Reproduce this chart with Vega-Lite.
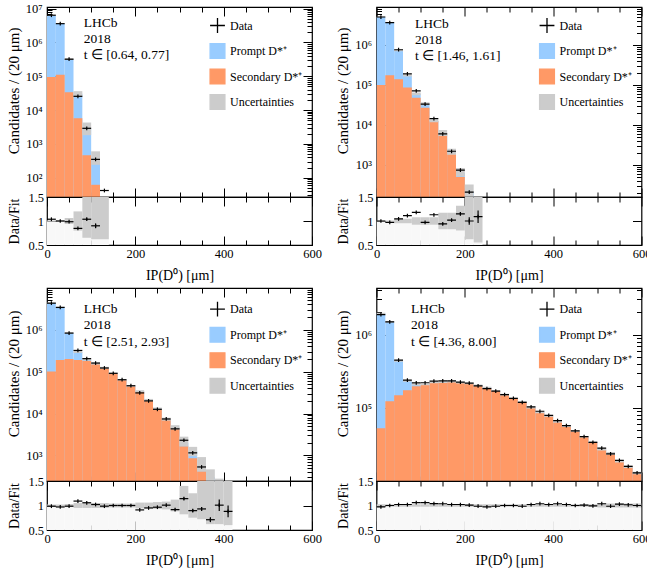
{
  "$schema": "https://vega.github.io/schema/vega-lite/v6.json",
  "background": "white",
  "padding": {"left": 5, "top": 2, "right": 0, "bottom": 0},
  "config": {
    "view": {"stroke": "black", "strokeWidth": 1.2},
    "font": "Liberation Serif",
    "axis": {"labelFont": "Liberation Serif", "titleFont": "Liberation Serif", "labelColor": "black", "titleColor": "black", "tickColor": "black", "tickWidth": 1, "titleFontWeight": "normal", "grid": false, "domain": false, "labelFlush": false, "labelOverlap": false, "labelFontSize": 12.5},
    "legend": {"labelFont": "Liberation Serif", "labelFontSize": 12, "labelColor": "black", "symbolSize": 220, "rowPadding": 4.5, "labelOffset": 4, "padding": 0}
  },
  "datasets": {
    "p1": [
      {"x0":0,"x1":20,"xc":10,"dat":6400000,"fit":6170000,"sec":95000,"lo":6100000,"hi":6240000,"r":1.037,"rbl":0.988,"rbh":1.012},
      {"x0":20,"x1":40,"xc":30,"dat":3600000,"fit":3600000,"sec":112000,"lo":3550000,"hi":3650000,"r":1.0,"rbl":0.985,"rbh":1.015},
      {"x0":40,"x1":60,"xc":50,"dat":320000,"fit":325000,"sec":34000,"lo":306000,"hi":345000,"r":0.985,"rbl":0.94,"rbh":1.06},
      {"x0":60,"x1":80,"xc":70,"dat":25600,"fit":30300,"sec":5800,"lo":24200,"hi":36400,"r":0.846,"rlo":0.836,"rhi":0.856,"rbl":0.8,"rbh":1.2},
      {"x0":80,"x1":100,"xc":90,"dat":2900,"fit":2800,"sec":460,"lo":1820,"hi":4300,"r":1.037,"rlo":1.017,"rhi":1.057,"rbl":0.65,"rbh":1.55},
      {"x0":100,"x1":120,"xc":110,"dat":350,"fit":390,"sec":62,"lo":242,"hi":605,"r":0.9,"rlo":0.85,"rhi":0.95,"rbl":0.62,"rbh":1.55},
      {"x0":120,"x1":140,"xc":130,"dat":42,"fit":16,"sec":3,"lo":10,"hi":25,"rbl":0.62,"rbh":1.55}
    ],
    "p2": [
      {"x0":0,"x1":20,"xc":10,"dat":5000000,"fit":5000000,"sec":100000,"lo":4950000,"hi":5050000,"r":1.0,"rbl":0.99,"rbh":1.01},
      {"x0":20,"x1":40,"xc":30,"dat":3600000,"fit":3710000,"sec":174000,"lo":3660000,"hi":3760000,"r":0.97,"rbl":0.988,"rbh":1.012},
      {"x0":40,"x1":60,"xc":50,"dat":760000,"fit":728000,"sec":138000,"lo":695000,"hi":761000,"r":1.044,"rbl":0.955,"rbh":1.045},
      {"x0":60,"x1":80,"xc":70,"dat":190000,"fit":171000,"sec":87000,"lo":163000,"hi":179000,"r":1.11,"rbl":0.955,"rbh":1.045},
      {"x0":80,"x1":100,"xc":90,"dat":71000,"fit":60000,"sec":48000,"lo":55200,"hi":64800,"r":1.18,"rbl":0.92,"rbh":1.08},
      {"x0":100,"x1":120,"xc":110,"dat":33000,"fit":34000,"sec":27000,"lo":31300,"hi":36700,"r":0.97,"rbl":0.92,"rbh":1.08},
      {"x0":120,"x1":140,"xc":130,"dat":14400,"fit":12700,"sec":12500,"lo":11700,"hi":13700,"r":1.13,"rbl":0.92,"rbh":1.08},
      {"x0":140,"x1":160,"xc":150,"dat":6000,"fit":6400,"sec":6100,"lo":5310,"hi":7490,"r":0.94,"rlo":0.925,"rhi":0.955,"rbl":0.83,"rbh":1.17},
      {"x0":160,"x1":180,"xc":170,"dat":2200,"fit":2160,"sec":2000,"lo":1790,"hi":2530,"r":1.02,"rlo":1.0,"rhi":1.04,"rbl":0.83,"rbh":1.17},
      {"x0":180,"x1":200,"xc":190,"dat":740,"fit":640,"sec":500,"lo":512,"hi":845,"r":1.15,"rlo":1.12,"rhi":1.18,"rbl":0.8,"rbh":1.32},
      {"x0":200,"x1":220,"xc":210,"dat":210,"fit":210,"sec":90,"lo":130,"hi":326,"r":1.0,"rlo":0.92,"rhi":1.08,"rbl":0.62,"rbh":1.55},
      {"x0":220,"x1":240,"xc":230,"dat":65,"fit":60,"sec":20,"lo":37,"hi":93,"r":1.09,"rlo":0.96,"rhi":1.22,"rbl":0.55,"rbh":1.55}
    ],
    "p3": [
      {"x0":0,"x1":20,"xc":10,"dat":4300000,"fit":4360000,"sec":100000,"lo":4270000,"hi":4450000,"r":0.986,"rbl":0.98,"rbh":1.02},
      {"x0":20,"x1":40,"xc":30,"dat":3400000,"fit":3500000,"sec":190000,"lo":3430000,"hi":3570000,"r":0.97,"rbl":0.98,"rbh":1.02},
      {"x0":40,"x1":60,"xc":50,"dat":830000,"fit":840000,"sec":200000,"lo":815000,"hi":865000,"r":0.986,"rbl":0.97,"rbh":1.03},
      {"x0":60,"x1":80,"xc":70,"dat":320000,"fit":294000,"sec":190000,"lo":279000,"hi":309000,"r":1.09,"rbl":0.95,"rbh":1.05},
      {"x0":80,"x1":100,"xc":90,"dat":204000,"fit":193000,"sec":180000,"lo":183000,"hi":203000,"r":1.056,"rbl":0.95,"rbh":1.05},
      {"x0":100,"x1":120,"xc":110,"dat":160000,"fit":157000,"sec":150000,"lo":149000,"hi":165000,"r":1.02,"rbl":0.95,"rbh":1.05},
      {"x0":120,"x1":140,"xc":130,"dat":122000,"fit":124000,"sec":120000,"lo":118000,"hi":130000,"r":0.986,"rbl":0.95,"rbh":1.05},
      {"x0":140,"x1":160,"xc":150,"dat":91000,"fit":91000,"sec":89000,"lo":87400,"hi":94600,"r":1.0,"rbl":0.96,"rbh":1.04},
      {"x0":160,"x1":180,"xc":170,"dat":64000,"fit":64000,"sec":63000,"lo":61400,"hi":66600,"r":1.0,"rbl":0.96,"rbh":1.04},
      {"x0":180,"x1":200,"xc":190,"dat":46000,"fit":46000,"sec":45000,"lo":44200,"hi":47800,"r":1.0,"rbl":0.96,"rbh":1.04},
      {"x0":200,"x1":220,"xc":210,"dat":31000,"fit":34000,"sec":33000,"lo":32000,"hi":36000,"r":0.91,"rbl":0.94,"rbh":1.06},
      {"x0":220,"x1":240,"xc":230,"dat":20000,"fit":21000,"sec":20500,"lo":19700,"hi":22300,"r":0.95,"rbl":0.94,"rbh":1.06},
      {"x0":240,"x1":260,"xc":250,"dat":12600,"fit":13000,"sec":12700,"lo":12100,"hi":13900,"r":0.965,"rbl":0.93,"rbh":1.07},
      {"x0":260,"x1":280,"xc":270,"dat":7400,"fit":7350,"sec":7100,"lo":6760,"hi":7940,"r":1.007,"rbl":0.92,"rbh":1.08},
      {"x0":280,"x1":300,"xc":290,"dat":4300,"fit":4700,"sec":4500,"lo":4140,"hi":5260,"r":0.916,"rlo":0.9,"rhi":0.932,"rbl":0.88,"rbh":1.12},
      {"x0":300,"x1":320,"xc":310,"dat":2300,"fit":2000,"sec":1650,"lo":1640,"hi":2800,"r":1.14,"rlo":1.115,"rhi":1.165,"rbl":0.82,"rbh":1.4},
      {"x0":320,"x1":340,"xc":330,"dat":1150,"fit":1280,"sec":850,"lo":960,"hi":1600,"r":0.895,"rlo":0.865,"rhi":0.925,"rbl":0.75,"rbh":1.25},
      {"x0":340,"x1":360,"xc":350,"dat":530,"fit":570,"sec":420,"lo":410,"hi":912,"r":0.93,"rlo":0.89,"rhi":0.97,"rbl":0.72,"rbh":1.6},
      {"x0":360,"x1":380,"xc":370,"dat":213,"fit":300,"lo":186,"hi":465,"r":0.71,"rlo":0.66,"rhi":0.76,"rbl":0.62,"rbh":1.55},
      {"x0":380,"x1":400,"xc":390,"dat":180,"fit":180,"lo":112,"hi":279,"r":1.007,"rlo":0.89,"rhi":1.12,"rbl":0.62,"rbh":1.55},
      {"x0":400,"x1":420,"xc":410,"dat":88,"fit":100,"lo":62,"hi":155,"r":0.88,"rlo":0.76,"rhi":1.0,"rbl":0.6,"rbh":1.55}
    ],
    "p4": [
      {"x0":0,"x1":20,"xc":10,"dat":1870000,"fit":1930000,"sec":53000,"lo":1880000,"hi":1980000,"r":0.97,"rbl":0.975,"rbh":1.025},
      {"x0":20,"x1":40,"xc":30,"dat":1490000,"fit":1490000,"sec":123000,"lo":1453000,"hi":1527000,"r":1.0,"rbl":0.975,"rbh":1.025},
      {"x0":40,"x1":60,"xc":50,"dat":447000,"fit":438000,"sec":149000,"lo":427000,"hi":449000,"r":1.02,"rbl":0.975,"rbh":1.025},
      {"x0":60,"x1":80,"xc":70,"dat":239000,"fit":234000,"sec":174000,"lo":228000,"hi":240000,"r":1.02,"rbl":0.975,"rbh":1.025},
      {"x0":80,"x1":100,"xc":90,"dat":219000,"fit":207000,"sec":197000,"lo":202000,"hi":212000,"r":1.06,"rbl":0.975,"rbh":1.025},
      {"x0":100,"x1":120,"xc":110,"dat":220000,"fit":208000,"sec":205000,"lo":203000,"hi":213000,"r":1.06,"rbl":0.975,"rbh":1.025},
      {"x0":120,"x1":140,"xc":130,"dat":231000,"fit":222000,"sec":220000,"lo":216000,"hi":228000,"r":1.04,"rbl":0.975,"rbh":1.025},
      {"x0":140,"x1":160,"xc":150,"dat":233000,"fit":225000,"sec":223000,"lo":219000,"hi":231000,"r":1.036,"rbl":0.975,"rbh":1.025},
      {"x0":160,"x1":180,"xc":170,"dat":233000,"fit":228000,"sec":226000,"lo":222000,"hi":234000,"r":1.02,"rbl":0.975,"rbh":1.025},
      {"x0":180,"x1":200,"xc":190,"dat":224000,"fit":220000,"sec":218000,"lo":215000,"hi":226000,"r":1.02,"rbl":0.975,"rbh":1.025},
      {"x0":200,"x1":220,"xc":210,"dat":217000,"fit":215000,"sec":213000,"lo":210000,"hi":220000,"r":1.007,"rbl":0.975,"rbh":1.025},
      {"x0":220,"x1":240,"xc":230,"dat":200000,"fit":203000,"sec":201000,"lo":198000,"hi":208000,"r":0.985,"rbl":0.975,"rbh":1.025},
      {"x0":240,"x1":260,"xc":250,"dat":183000,"fit":189000,"sec":187000,"lo":184000,"hi":194000,"r":0.97,"rbl":0.975,"rbh":1.025},
      {"x0":260,"x1":280,"xc":270,"dat":169000,"fit":172000,"sec":170000,"lo":168000,"hi":176000,"r":0.985,"rbl":0.975,"rbh":1.025},
      {"x0":280,"x1":300,"xc":290,"dat":152000,"fit":152000,"sec":150000,"lo":148000,"hi":156000,"r":1.0,"rbl":0.975,"rbh":1.025},
      {"x0":300,"x1":320,"xc":310,"dat":135000,"fit":135000,"sec":134000,"lo":132000,"hi":138000,"r":1.0,"rbl":0.975,"rbh":1.025},
      {"x0":320,"x1":340,"xc":330,"dat":119000,"fit":121000,"sec":120000,"lo":118000,"hi":124000,"r":0.985,"rbl":0.975,"rbh":1.025},
      {"x0":340,"x1":360,"xc":350,"dat":103000,"fit":101000,"sec":100000,"lo":98500,"hi":103500,"r":1.02,"rbl":0.975,"rbh":1.025},
      {"x0":360,"x1":380,"xc":370,"dat":90000,"fit":87000,"sec":86000,"lo":84800,"hi":89200,"r":1.036,"rbl":0.975,"rbh":1.025},
      {"x0":380,"x1":400,"xc":390,"dat":79000,"fit":77500,"sec":76700,"lo":75600,"hi":79400,"r":1.02,"rbl":0.975,"rbh":1.025},
      {"x0":400,"x1":420,"xc":410,"dat":67000,"fit":64700,"sec":64000,"lo":63100,"hi":66300,"r":1.036,"rbl":0.975,"rbh":1.025},
      {"x0":420,"x1":440,"xc":430,"dat":57500,"fit":56400,"sec":55800,"lo":55000,"hi":57800,"r":1.02,"rbl":0.975,"rbh":1.025},
      {"x0":440,"x1":460,"xc":450,"dat":48600,"fit":48600,"sec":48100,"lo":47400,"hi":49800,"r":1.0,"rbl":0.975,"rbh":1.025},
      {"x0":460,"x1":480,"xc":470,"dat":40700,"fit":40400,"sec":40000,"lo":39400,"hi":41400,"r":1.007,"rbl":0.975,"rbh":1.025},
      {"x0":480,"x1":500,"xc":490,"dat":34000,"fit":34200,"sec":33900,"lo":33300,"hi":35100,"r":0.993,"rbl":0.975,"rbh":1.025},
      {"x0":500,"x1":520,"xc":510,"dat":28300,"fit":27300,"sec":27000,"lo":26200,"hi":28400,"r":1.036,"rbl":0.96,"rbh":1.04},
      {"x0":520,"x1":540,"xc":530,"dat":23600,"fit":24000,"sec":23800,"lo":23000,"hi":25000,"r":0.985,"rbl":0.96,"rbh":1.04},
      {"x0":540,"x1":560,"xc":550,"dat":19300,"fit":18700,"sec":18500,"lo":18000,"hi":19400,"r":1.03,"rbl":0.96,"rbh":1.04},
      {"x0":560,"x1":580,"xc":570,"dat":16000,"fit":15800,"sec":15600,"lo":15200,"hi":16400,"r":1.015,"rbl":0.96,"rbh":1.04},
      {"x0":580,"x1":600,"xc":590,"dat":13000,"fit":13000,"sec":12900,"lo":12500,"hi":13500,"r":1.0,"rbl":0.96,"rbh":1.04}
    ]
  },
  "spacing": 0,
  "resolve": {"scale": {"color": "independent"}, "legend": {"color": "independent"}},
  "vconcat": [
    {
      "spacing": 12.5,
      "resolve": {"scale": {"color": "independent"}, "legend": {"color": "independent"}},
      "hconcat": [
        {
          "spacing": 0,
          "bounds": "flush",
          "vconcat": [
            {
              "width": 265, "height": 190,
              "data": {"name": "p1"},
              "resolve": {"axis": {"x": "independent", "y": "independent"}},
              "layer": [
                {"mark": {"type": "rect", "clip": true},
                 "encoding": {
                   "x": {"field": "x0", "type": "quantitative", "scale": {"domain": [0, 600], "nice": false, "zero": false},
                         "axis": {"orient": "bottom", "values": [0,50,100,150,200,250,300,350,400,450,500,550,600], "labels": false, "title": null, "tickSize": {"condition": {"test": "datum.value % 200 === 0", "value": -9}, "value": -5}}},
                   "x2": {"field": "x1"},
                   "y": {"field": "fit", "type": "quantitative", "scale": {"type": "log", "domain": [27, 11200000], "nice": false},
                         "axis": {"orient": "left", "values": [30,40,50,60,70,80,90,100,200,300,400,500,600,700,800,900,1000,2000,3000,4000,5000,6000,7000,8000,9000,10000,20000,30000,40000,50000,60000,70000,80000,90000,100000,200000,300000,400000,500000,600000,700000,800000,900000,1000000,2000000,3000000,4000000,5000000,6000000,7000000,8000000,9000000,10000000],
                                  "labelExpr": "abs(log(datum.value)/LN10 - round(log(datum.value)/LN10)) < 0.001 ? '10' + ['⁰','¹','²','³','⁴','⁵','⁶','⁷','⁸','⁹'][round(log(datum.value)/LN10)] : ''",
                                  "tickSize": {"condition": {"test": "abs(log(datum.value)/LN10 - round(log(datum.value)/LN10)) < 0.001", "value": -9}, "value": -5},
                                  "labelPadding": 14,
                                  "title": "Candidates / (20 μm)", "titleFontSize": 15, "titleX": -29, "titleY": 20, "titleAlign": "right", "titleBaseline": "alphabetic", "titleAngle": 270}},
                   "y2": {"datum": 1},
                   "color": {"datum": "Prompt D*⁺", "type": "nominal",
                             "scale": {"domain": ["Data", "Prompt D*⁺", "Secondary D*⁺", "Uncertainties"], "range": ["#000000", "#99ccff", "#ff9966", "#cccccc"]},
                             "legend": {"title": null, "orient": "none", "legendX": 162, "legendY": 10,
                                        "encode": {"symbols": {"update": {
                                          "shape": {"signal": "datum.value === 'Data' ? 'M-1,0L1,0M0,-1L0,1' : 'square'"},
                                          "fill": {"signal": "datum.value === 'Data' ? 'transparent' : (datum.value === 'Uncertainties' ? '#cccccc' : (datum.value === 'Secondary D*⁺' ? '#ff9966' : '#99ccff'))"},
                                          "stroke": {"signal": "datum.value === 'Data' ? '#000000' : 'transparent'"},
                                          "strokeWidth": {"value": 1.3},
                                          "opacity": {"value": 1}}}}}}
                 }},
                {"mark": {"type": "rect", "clip": true},
                 "encoding": {
                   "x": {"field": "x0", "type": "quantitative", "axis": {"orient": "top", "values": [0,50,100,150,200,250,300,350,400,450,500,550,600], "labels": false, "title": null, "tickSize": {"condition": {"test": "datum.value % 200 === 0", "value": -9}, "value": -5}}},
                   "x2": {"field": "x1"},
                   "y": {"field": "sec", "type": "quantitative", "axis": {"orient": "right", "values": [30,40,50,60,70,80,90,100,200,300,400,500,600,700,800,900,1000,2000,3000,4000,5000,6000,7000,8000,9000,10000,20000,30000,40000,50000,60000,70000,80000,90000,100000,200000,300000,400000,500000,600000,700000,800000,900000,1000000,2000000,3000000,4000000,5000000,6000000,7000000,8000000,9000000,10000000], "labels": false, "title": null,
                         "tickSize": {"condition": {"test": "abs(log(datum.value)/LN10 - round(log(datum.value)/LN10)) < 0.001", "value": -9}, "value": -5}}},
                   "y2": {"datum": 1},
                   "color": {"datum": "Secondary D*⁺", "type": "nominal"}
                 }},
                {"mark": {"type": "rect", "clip": true},
                 "encoding": {
                   "x": {"field": "x0", "type": "quantitative", "axis": null},
                   "x2": {"field": "x1"},
                   "y": {"field": "lo", "type": "quantitative", "axis": null},
                   "y2": {"field": "hi"},
                   "color": {"datum": "Uncertainties", "type": "nominal"}
                 }},
                {"mark": {"type": "rule", "clip": true, "strokeWidth": 1.2},
                 "encoding": {
                   "x": {"field": "x0", "type": "quantitative", "axis": null},
                   "x2": {"field": "x1"},
                   "y": {"field": "dat", "type": "quantitative", "axis": null},
                   "color": {"datum": "Data", "type": "nominal"}
                 }},
                {"mark": {"type": "point", "shape": "M0,-1L0,1", "filled": false, "size": 14, "strokeWidth": 1.2, "opacity": 1, "clip": true},
                 "encoding": {
                   "x": {"field": "xc", "type": "quantitative", "axis": null},
                   "y": {"field": "dat", "type": "quantitative", "axis": null},
                   "color": {"datum": "Data", "type": "nominal"}
                 }},
                {"data": {"values": [{}]},
                 "mark": {"type": "text", "align": "left", "baseline": "top", "font": "Liberation Serif", "fontSize": 13.5, "lineHeight": 16, "color": "black"},
                 "encoding": {
                   "x": {"datum": 83, "type": "quantitative", "axis": null},
                   "y": {"datum": 6000000, "type": "quantitative", "axis": null},
                   "text": {"value": ["LHCb", "2018", "t ∈ [0.64, 0.77]"]}
                 }}
              ]
            },
            {
              "width": 265, "height": 48,
              "data": {"name": "p1"},
              "resolve": {"axis": {"x": "independent", "y": "independent"}},
              "layer": [
                {"mark": {"type": "rect", "clip": true, "color": "#f8f8f8"},
                 "encoding": {
                   "x": {"field": "x0", "type": "quantitative", "scale": {"domain": [0, 600], "nice": false, "zero": false},
                         "axis": {"orient": "bottom", "values": [0,50,100,150,200,250,300,350,400,450,500,550,600], "labelExpr": "datum.value % 200 === 0 ? datum.label : ''", "labelPadding": 11, "tickSize": {"condition": {"test": "datum.value % 200 === 0", "value": -9}, "value": -5},
                                  "title": "IP(D⁰) [μm]", "titleFontSize": 14, "titleY": 34, "titleBaseline": "alphabetic"}},
                   "x2": {"field": "x1"},
                   "y": {"field": "rbl", "type": "quantitative", "scale": {"domain": [0.5, 1.5], "nice": false, "zero": false},
                         "axis": {"orient": "left", "values": [0.5, 1, 1.5], "format": "~g", "tickSize": -9, "labelPadding": 12.5, "title": "Data/Fit", "titleFontSize": 14, "titleX": -29, "titleBaseline": "alphabetic", "titleAngle": 270}},
                   "y2": {"datum": 0.5}
                 }},
                {"mark": {"type": "rect", "clip": true, "color": "#cccccc"},
                 "encoding": {
                   "x": {"field": "x0", "type": "quantitative", "axis": {"orient": "top", "values": [0,50,100,150,200,250,300,350,400,450,500,550,600], "labels": false, "title": null, "tickSize": {"condition": {"test": "datum.value % 200 === 0", "value": -9}, "value": -5}}},
                   "x2": {"field": "x1"},
                   "y": {"field": "rbl", "type": "quantitative", "axis": {"orient": "right", "values": [0.5, 1, 1.5], "labels": false, "title": null, "tickSize": -9}},
                   "y2": {"field": "rbh"}
                 }},
                {"mark": {"type": "rule", "clip": true, "color": "black", "strokeWidth": 1.2},
                 "encoding": {
                   "x": {"field": "x0", "type": "quantitative", "axis": null},
                   "x2": {"field": "x1"},
                   "y": {"field": "r", "type": "quantitative", "axis": null}
                 }},
                {"mark": {"type": "rule", "clip": true, "color": "black", "strokeWidth": 1.2},
                 "encoding": {
                   "x": {"field": "xc", "type": "quantitative", "axis": null},
                   "y": {"field": "rlo", "type": "quantitative", "axis": null},
                   "y2": {"field": "rhi"}
                 }},
                {"mark": {"type": "point", "shape": "M0,-1L0,1", "filled": false, "size": 14, "strokeWidth": 1.2, "opacity": 1, "color": "black", "clip": true},
                 "encoding": {
                   "x": {"field": "xc", "type": "quantitative", "axis": null},
                   "y": {"field": "r", "type": "quantitative", "axis": null}
                 }}
              ]
            }
          ]
        },
        {
          "spacing": 0,
          "bounds": "flush",
          "vconcat": [
            {
              "width": 265, "height": 190,
              "data": {"name": "p2"},
              "resolve": {"axis": {"x": "independent", "y": "independent"}},
              "layer": [
                {"mark": {"type": "rect", "clip": true},
                 "encoding": {
                   "x": {"field": "x0", "type": "quantitative", "scale": {"domain": [0, 600], "nice": false, "zero": false},
                         "axis": {"orient": "bottom", "values": [0,50,100,150,200,250,300,350,400,450,500,550,600], "labels": false, "title": null, "tickSize": {"condition": {"test": "datum.value % 200 === 0", "value": -9}, "value": -5}}},
                   "x2": {"field": "x1"},
                   "y": {"field": "fit", "type": "quantitative", "scale": {"type": "log", "domain": [158, 8900000], "nice": false},
                         "axis": {"orient": "left", "values": [200,300,400,500,600,700,800,900,1000,2000,3000,4000,5000,6000,7000,8000,9000,10000,20000,30000,40000,50000,60000,70000,80000,90000,100000,200000,300000,400000,500000,600000,700000,800000,900000,1000000,2000000,3000000,4000000,5000000,6000000,7000000,8000000],
                                  "labelExpr": "abs(log(datum.value)/LN10 - round(log(datum.value)/LN10)) < 0.001 ? '10' + ['⁰','¹','²','³','⁴','⁵','⁶','⁷','⁸','⁹'][round(log(datum.value)/LN10)] : ''",
                                  "tickSize": {"condition": {"test": "abs(log(datum.value)/LN10 - round(log(datum.value)/LN10)) < 0.001", "value": -9}, "value": -5},
                                  "labelPadding": 14,
                                  "title": "Candidates / (20 μm)", "titleFontSize": 15, "titleX": -29, "titleY": 20, "titleAlign": "right", "titleBaseline": "alphabetic", "titleAngle": 270}},
                   "y2": {"datum": 1},
                   "color": {"datum": "Prompt D*⁺", "type": "nominal",
                             "scale": {"domain": ["Data", "Prompt D*⁺", "Secondary D*⁺", "Uncertainties"], "range": ["#000000", "#99ccff", "#ff9966", "#cccccc"]},
                             "legend": {"title": null, "orient": "none", "legendX": 162, "legendY": 10,
                                        "encode": {"symbols": {"update": {
                                          "shape": {"signal": "datum.value === 'Data' ? 'M-1,0L1,0M0,-1L0,1' : 'square'"},
                                          "fill": {"signal": "datum.value === 'Data' ? 'transparent' : (datum.value === 'Uncertainties' ? '#cccccc' : (datum.value === 'Secondary D*⁺' ? '#ff9966' : '#99ccff'))"},
                                          "stroke": {"signal": "datum.value === 'Data' ? '#000000' : 'transparent'"},
                                          "strokeWidth": {"value": 1.3},
                                          "opacity": {"value": 1}}}}}}
                 }},
                {"mark": {"type": "rect", "clip": true},
                 "encoding": {
                   "x": {"field": "x0", "type": "quantitative", "axis": {"orient": "top", "values": [0,50,100,150,200,250,300,350,400,450,500,550,600], "labels": false, "title": null, "tickSize": {"condition": {"test": "datum.value % 200 === 0", "value": -9}, "value": -5}}},
                   "x2": {"field": "x1"},
                   "y": {"field": "sec", "type": "quantitative", "axis": {"orient": "right", "values": [200,300,400,500,600,700,800,900,1000,2000,3000,4000,5000,6000,7000,8000,9000,10000,20000,30000,40000,50000,60000,70000,80000,90000,100000,200000,300000,400000,500000,600000,700000,800000,900000,1000000,2000000,3000000,4000000,5000000,6000000,7000000,8000000], "labels": false, "title": null,
                         "tickSize": {"condition": {"test": "abs(log(datum.value)/LN10 - round(log(datum.value)/LN10)) < 0.001", "value": -9}, "value": -5}}},
                   "y2": {"datum": 1},
                   "color": {"datum": "Secondary D*⁺", "type": "nominal"}
                 }},
                {"mark": {"type": "rect", "clip": true},
                 "encoding": {
                   "x": {"field": "x0", "type": "quantitative", "axis": null},
                   "x2": {"field": "x1"},
                   "y": {"field": "lo", "type": "quantitative", "axis": null},
                   "y2": {"field": "hi"},
                   "color": {"datum": "Uncertainties", "type": "nominal"}
                 }},
                {"mark": {"type": "rule", "clip": true, "strokeWidth": 1.2},
                 "encoding": {
                   "x": {"field": "x0", "type": "quantitative", "axis": null},
                   "x2": {"field": "x1"},
                   "y": {"field": "dat", "type": "quantitative", "axis": null},
                   "color": {"datum": "Data", "type": "nominal"}
                 }},
                {"mark": {"type": "point", "shape": "M0,-1L0,1", "filled": false, "size": 14, "strokeWidth": 1.2, "opacity": 1, "clip": true},
                 "encoding": {
                   "x": {"field": "xc", "type": "quantitative", "axis": null},
                   "y": {"field": "dat", "type": "quantitative", "axis": null},
                   "color": {"datum": "Data", "type": "nominal"}
                 }},
                {"data": {"values": [{}]},
                 "mark": {"type": "text", "align": "left", "baseline": "top", "font": "Liberation Serif", "fontSize": 13.5, "lineHeight": 16, "color": "black"},
                 "encoding": {
                   "x": {"datum": 87, "type": "quantitative", "axis": null},
                   "y": {"datum": 5090000, "type": "quantitative", "axis": null},
                   "text": {"value": ["LHCb", "2018", "t ∈ [1.46, 1.61]"]}
                 }}
              ]
            },
            {
              "width": 265, "height": 48,
              "data": {"name": "p2"},
              "resolve": {"axis": {"x": "independent", "y": "independent"}},
              "layer": [
                {"mark": {"type": "rect", "clip": true, "color": "#f8f8f8"},
                 "encoding": {
                   "x": {"field": "x0", "type": "quantitative", "scale": {"domain": [0, 600], "nice": false, "zero": false},
                         "axis": {"orient": "bottom", "values": [0,50,100,150,200,250,300,350,400,450,500,550,600], "labelExpr": "datum.value % 200 === 0 ? datum.label : ''", "labelPadding": 11, "tickSize": {"condition": {"test": "datum.value % 200 === 0", "value": -9}, "value": -5},
                                  "title": "IP(D⁰) [μm]", "titleFontSize": 14, "titleY": 34, "titleBaseline": "alphabetic"}},
                   "x2": {"field": "x1"},
                   "y": {"field": "rbl", "type": "quantitative", "scale": {"domain": [0.5, 1.5], "nice": false, "zero": false},
                         "axis": {"orient": "left", "values": [0.5, 1, 1.5], "format": "~g", "tickSize": -9, "labelPadding": 12.5, "title": "Data/Fit", "titleFontSize": 14, "titleX": -29, "titleBaseline": "alphabetic", "titleAngle": 270}},
                   "y2": {"datum": 0.5}
                 }},
                {"mark": {"type": "rect", "clip": true, "color": "#cccccc"},
                 "encoding": {
                   "x": {"field": "x0", "type": "quantitative", "axis": {"orient": "top", "values": [0,50,100,150,200,250,300,350,400,450,500,550,600], "labels": false, "title": null, "tickSize": {"condition": {"test": "datum.value % 200 === 0", "value": -9}, "value": -5}}},
                   "x2": {"field": "x1"},
                   "y": {"field": "rbl", "type": "quantitative", "axis": {"orient": "right", "values": [0.5, 1, 1.5], "labels": false, "title": null, "tickSize": -9}},
                   "y2": {"field": "rbh"}
                 }},
                {"mark": {"type": "rule", "clip": true, "color": "black", "strokeWidth": 1.2},
                 "encoding": {
                   "x": {"field": "x0", "type": "quantitative", "axis": null},
                   "x2": {"field": "x1"},
                   "y": {"field": "r", "type": "quantitative", "axis": null}
                 }},
                {"mark": {"type": "rule", "clip": true, "color": "black", "strokeWidth": 1.2},
                 "encoding": {
                   "x": {"field": "xc", "type": "quantitative", "axis": null},
                   "y": {"field": "rlo", "type": "quantitative", "axis": null},
                   "y2": {"field": "rhi"}
                 }},
                {"mark": {"type": "point", "shape": "M0,-1L0,1", "filled": false, "size": 14, "strokeWidth": 1.2, "opacity": 1, "color": "black", "clip": true},
                 "encoding": {
                   "x": {"field": "xc", "type": "quantitative", "axis": null},
                   "y": {"field": "r", "type": "quantitative", "axis": null}
                 }}
              ]
            }
          ]
        }
      ]
    },
    {
      "spacing": 12.5,
      "resolve": {"scale": {"color": "independent"}, "legend": {"color": "independent"}},
      "hconcat": [
        {
          "spacing": 0,
          "bounds": "flush",
          "vconcat": [
            {
              "width": 265, "height": 193,
              "data": {"name": "p3"},
              "resolve": {"axis": {"x": "independent", "y": "independent"}},
              "layer": [
                {"mark": {"type": "rect", "clip": true},
                 "encoding": {
                   "x": {"field": "x0", "type": "quantitative", "scale": {"domain": [0, 600], "nice": false, "zero": false},
                         "axis": {"orient": "bottom", "values": [0,50,100,150,200,250,300,350,400,450,500,550,600], "labels": false, "title": null, "tickSize": {"condition": {"test": "datum.value % 200 === 0", "value": -9}, "value": -5}}},
                   "x2": {"field": "x1"},
                   "y": {"field": "fit", "type": "quantitative", "scale": {"type": "log", "domain": [245, 9900000], "nice": false},
                         "axis": {"orient": "left", "values": [300,400,500,600,700,800,900,1000,2000,3000,4000,5000,6000,7000,8000,9000,10000,20000,30000,40000,50000,60000,70000,80000,90000,100000,200000,300000,400000,500000,600000,700000,800000,900000,1000000,2000000,3000000,4000000,5000000,6000000,7000000,8000000,9000000],
                                  "labelExpr": "abs(log(datum.value)/LN10 - round(log(datum.value)/LN10)) < 0.001 ? '10' + ['⁰','¹','²','³','⁴','⁵','⁶','⁷','⁸','⁹'][round(log(datum.value)/LN10)] : ''",
                                  "tickSize": {"condition": {"test": "abs(log(datum.value)/LN10 - round(log(datum.value)/LN10)) < 0.001", "value": -9}, "value": -5},
                                  "labelPadding": 14,
                                  "title": "Candidates / (20 μm)", "titleFontSize": 15, "titleX": -29, "titleY": 22, "titleAlign": "right", "titleBaseline": "alphabetic", "titleAngle": 270}},
                   "y2": {"datum": 1},
                   "color": {"datum": "Prompt D*⁺", "type": "nominal",
                             "scale": {"domain": ["Data", "Prompt D*⁺", "Secondary D*⁺", "Uncertainties"], "range": ["#000000", "#99ccff", "#ff9966", "#cccccc"]},
                             "legend": {"title": null, "orient": "none", "legendX": 162, "legendY": 12.7,
                                        "encode": {"symbols": {"update": {
                                          "shape": {"signal": "datum.value === 'Data' ? 'M-1,0L1,0M0,-1L0,1' : 'square'"},
                                          "fill": {"signal": "datum.value === 'Data' ? 'transparent' : (datum.value === 'Uncertainties' ? '#cccccc' : (datum.value === 'Secondary D*⁺' ? '#ff9966' : '#99ccff'))"},
                                          "stroke": {"signal": "datum.value === 'Data' ? '#000000' : 'transparent'"},
                                          "strokeWidth": {"value": 1.3},
                                          "opacity": {"value": 1}}}}}}
                 }},
                {"mark": {"type": "rect", "clip": true},
                 "encoding": {
                   "x": {"field": "x0", "type": "quantitative", "axis": {"orient": "top", "values": [0,50,100,150,200,250,300,350,400,450,500,550,600], "labels": false, "title": null, "tickSize": {"condition": {"test": "datum.value % 200 === 0", "value": -9}, "value": -5}}},
                   "x2": {"field": "x1"},
                   "y": {"field": "sec", "type": "quantitative", "axis": {"orient": "right", "values": [300,400,500,600,700,800,900,1000,2000,3000,4000,5000,6000,7000,8000,9000,10000,20000,30000,40000,50000,60000,70000,80000,90000,100000,200000,300000,400000,500000,600000,700000,800000,900000,1000000,2000000,3000000,4000000,5000000,6000000,7000000,8000000,9000000], "labels": false, "title": null,
                         "tickSize": {"condition": {"test": "abs(log(datum.value)/LN10 - round(log(datum.value)/LN10)) < 0.001", "value": -9}, "value": -5}}},
                   "y2": {"datum": 1},
                   "color": {"datum": "Secondary D*⁺", "type": "nominal"}
                 }},
                {"mark": {"type": "rect", "clip": true},
                 "encoding": {
                   "x": {"field": "x0", "type": "quantitative", "axis": null},
                   "x2": {"field": "x1"},
                   "y": {"field": "lo", "type": "quantitative", "axis": null},
                   "y2": {"field": "hi"},
                   "color": {"datum": "Uncertainties", "type": "nominal"}
                 }},
                {"mark": {"type": "rule", "clip": true, "strokeWidth": 1.2},
                 "encoding": {
                   "x": {"field": "x0", "type": "quantitative", "axis": null},
                   "x2": {"field": "x1"},
                   "y": {"field": "dat", "type": "quantitative", "axis": null},
                   "color": {"datum": "Data", "type": "nominal"}
                 }},
                {"mark": {"type": "point", "shape": "M0,-1L0,1", "filled": false, "size": 14, "strokeWidth": 1.2, "opacity": 1, "clip": true},
                 "encoding": {
                   "x": {"field": "xc", "type": "quantitative", "axis": null},
                   "y": {"field": "dat", "type": "quantitative", "axis": null},
                   "color": {"datum": "Data", "type": "nominal"}
                 }},
                {"data": {"values": [{}]},
                 "mark": {"type": "text", "align": "left", "baseline": "top", "font": "Liberation Serif", "fontSize": 13.5, "lineHeight": 16.5, "color": "black"},
                 "encoding": {
                   "x": {"datum": 83, "type": "quantitative", "axis": null},
                   "y": {"datum": 4670000, "type": "quantitative", "axis": null},
                   "text": {"value": ["LHCb", "2018", "t ∈ [2.51, 2.93]"]}
                 }}
              ]
            },
            {
              "width": 265, "height": 49,
              "data": {"name": "p3"},
              "resolve": {"axis": {"x": "independent", "y": "independent"}},
              "layer": [
                {"mark": {"type": "rect", "clip": true, "color": "#f8f8f8"},
                 "encoding": {
                   "x": {"field": "x0", "type": "quantitative", "scale": {"domain": [0, 600], "nice": false, "zero": false},
                         "axis": {"orient": "bottom", "values": [0,50,100,150,200,250,300,350,400,450,500,550,600], "labelExpr": "datum.value % 200 === 0 ? datum.label : ''", "labelPadding": 11, "tickSize": {"condition": {"test": "datum.value % 200 === 0", "value": -9}, "value": -5},
                                  "title": "IP(D⁰) [μm]", "titleFontSize": 14, "titleY": 34, "titleBaseline": "alphabetic"}},
                   "x2": {"field": "x1"},
                   "y": {"field": "rbl", "type": "quantitative", "scale": {"domain": [0.5, 1.5], "nice": false, "zero": false},
                         "axis": {"orient": "left", "values": [0.5, 1, 1.5], "format": "~g", "tickSize": -9, "labelPadding": 12.5, "title": "Data/Fit", "titleFontSize": 14, "titleX": -29, "titleBaseline": "alphabetic", "titleAngle": 270}},
                   "y2": {"datum": 0.5}
                 }},
                {"mark": {"type": "rect", "clip": true, "color": "#cccccc"},
                 "encoding": {
                   "x": {"field": "x0", "type": "quantitative", "axis": {"orient": "top", "values": [0,50,100,150,200,250,300,350,400,450,500,550,600], "labels": false, "title": null, "tickSize": {"condition": {"test": "datum.value % 200 === 0", "value": -9}, "value": -5}}},
                   "x2": {"field": "x1"},
                   "y": {"field": "rbl", "type": "quantitative", "axis": {"orient": "right", "values": [0.5, 1, 1.5], "labels": false, "title": null, "tickSize": -9}},
                   "y2": {"field": "rbh"}
                 }},
                {"mark": {"type": "rule", "clip": true, "color": "black", "strokeWidth": 1.2},
                 "encoding": {
                   "x": {"field": "x0", "type": "quantitative", "axis": null},
                   "x2": {"field": "x1"},
                   "y": {"field": "r", "type": "quantitative", "axis": null}
                 }},
                {"mark": {"type": "rule", "clip": true, "color": "black", "strokeWidth": 1.2},
                 "encoding": {
                   "x": {"field": "xc", "type": "quantitative", "axis": null},
                   "y": {"field": "rlo", "type": "quantitative", "axis": null},
                   "y2": {"field": "rhi"}
                 }},
                {"mark": {"type": "point", "shape": "M0,-1L0,1", "filled": false, "size": 14, "strokeWidth": 1.2, "opacity": 1, "color": "black", "clip": true},
                 "encoding": {
                   "x": {"field": "xc", "type": "quantitative", "axis": null},
                   "y": {"field": "r", "type": "quantitative", "axis": null}
                 }}
              ]
            }
          ]
        },
        {
          "spacing": 0,
          "bounds": "flush",
          "vconcat": [
            {
              "width": 265, "height": 193,
              "data": {"name": "p4"},
              "resolve": {"axis": {"x": "independent", "y": "independent"}},
              "layer": [
                {"mark": {"type": "rect", "clip": true},
                 "encoding": {
                   "x": {"field": "x0", "type": "quantitative", "scale": {"domain": [0, 600], "nice": false, "zero": false},
                         "axis": {"orient": "bottom", "values": [0,50,100,150,200,250,300,350,400,450,500,550,600], "labels": false, "title": null, "tickSize": {"condition": {"test": "datum.value % 200 === 0", "value": -9}, "value": -5}}},
                   "x2": {"field": "x1"},
                   "y": {"field": "fit", "type": "quantitative", "scale": {"type": "log", "domain": [10100, 4300000], "nice": false},
                         "axis": {"orient": "left", "values": [20000,30000,40000,50000,60000,70000,80000,90000,100000,200000,300000,400000,500000,600000,700000,800000,900000,1000000,2000000,3000000,4000000],
                                  "labelExpr": "abs(log(datum.value)/LN10 - round(log(datum.value)/LN10)) < 0.001 ? '10' + ['⁰','¹','²','³','⁴','⁵','⁶','⁷','⁸','⁹'][round(log(datum.value)/LN10)] : ''",
                                  "tickSize": {"condition": {"test": "abs(log(datum.value)/LN10 - round(log(datum.value)/LN10)) < 0.001", "value": -9}, "value": -5},
                                  "labelPadding": 14,
                                  "title": "Candidates / (20 μm)", "titleFontSize": 15, "titleX": -29, "titleY": 22, "titleAlign": "right", "titleBaseline": "alphabetic", "titleAngle": 270}},
                   "y2": {"datum": 1},
                   "color": {"datum": "Prompt D*⁺", "type": "nominal",
                             "scale": {"domain": ["Data", "Prompt D*⁺", "Secondary D*⁺", "Uncertainties"], "range": ["#000000", "#99ccff", "#ff9966", "#cccccc"]},
                             "legend": {"title": null, "orient": "none", "legendX": 162, "legendY": 12.7,
                                        "encode": {"symbols": {"update": {
                                          "shape": {"signal": "datum.value === 'Data' ? 'M-1,0L1,0M0,-1L0,1' : 'square'"},
                                          "fill": {"signal": "datum.value === 'Data' ? 'transparent' : (datum.value === 'Uncertainties' ? '#cccccc' : (datum.value === 'Secondary D*⁺' ? '#ff9966' : '#99ccff'))"},
                                          "stroke": {"signal": "datum.value === 'Data' ? '#000000' : 'transparent'"},
                                          "strokeWidth": {"value": 1.3},
                                          "opacity": {"value": 1}}}}}}
                 }},
                {"mark": {"type": "rect", "clip": true},
                 "encoding": {
                   "x": {"field": "x0", "type": "quantitative", "axis": {"orient": "top", "values": [0,50,100,150,200,250,300,350,400,450,500,550,600], "labels": false, "title": null, "tickSize": {"condition": {"test": "datum.value % 200 === 0", "value": -9}, "value": -5}}},
                   "x2": {"field": "x1"},
                   "y": {"field": "sec", "type": "quantitative", "axis": {"orient": "right", "values": [20000,30000,40000,50000,60000,70000,80000,90000,100000,200000,300000,400000,500000,600000,700000,800000,900000,1000000,2000000,3000000,4000000], "labels": false, "title": null,
                         "tickSize": {"condition": {"test": "abs(log(datum.value)/LN10 - round(log(datum.value)/LN10)) < 0.001", "value": -9}, "value": -5}}},
                   "y2": {"datum": 1},
                   "color": {"datum": "Secondary D*⁺", "type": "nominal"}
                 }},
                {"mark": {"type": "rect", "clip": true},
                 "encoding": {
                   "x": {"field": "x0", "type": "quantitative", "axis": null},
                   "x2": {"field": "x1"},
                   "y": {"field": "lo", "type": "quantitative", "axis": null},
                   "y2": {"field": "hi"},
                   "color": {"datum": "Uncertainties", "type": "nominal"}
                 }},
                {"mark": {"type": "rule", "clip": true, "strokeWidth": 1.2},
                 "encoding": {
                   "x": {"field": "x0", "type": "quantitative", "axis": null},
                   "x2": {"field": "x1"},
                   "y": {"field": "dat", "type": "quantitative", "axis": null},
                   "color": {"datum": "Data", "type": "nominal"}
                 }},
                {"mark": {"type": "point", "shape": "M0,-1L0,1", "filled": false, "size": 14, "strokeWidth": 1.2, "opacity": 1, "clip": true},
                 "encoding": {
                   "x": {"field": "xc", "type": "quantitative", "axis": null},
                   "y": {"field": "dat", "type": "quantitative", "axis": null},
                   "color": {"datum": "Data", "type": "nominal"}
                 }},
                {"data": {"values": [{}]},
                 "mark": {"type": "text", "align": "left", "baseline": "top", "font": "Liberation Serif", "fontSize": 13.5, "lineHeight": 16.5, "color": "black"},
                 "encoding": {
                   "x": {"datum": 78, "type": "quantitative", "axis": null},
                   "y": {"datum": 2790000, "type": "quantitative", "axis": null},
                   "text": {"value": ["LHCb", "2018", "t ∈ [4.36, 8.00]"]}
                 }}
              ]
            },
            {
              "width": 265, "height": 49,
              "data": {"name": "p4"},
              "resolve": {"axis": {"x": "independent", "y": "independent"}},
              "layer": [
                {"mark": {"type": "rect", "clip": true, "color": "#f8f8f8"},
                 "encoding": {
                   "x": {"field": "x0", "type": "quantitative", "scale": {"domain": [0, 600], "nice": false, "zero": false},
                         "axis": {"orient": "bottom", "values": [0,50,100,150,200,250,300,350,400,450,500,550,600], "labelExpr": "datum.value % 200 === 0 ? datum.label : ''", "labelPadding": 11, "tickSize": {"condition": {"test": "datum.value % 200 === 0", "value": -9}, "value": -5},
                                  "title": "IP(D⁰) [μm]", "titleFontSize": 14, "titleY": 34, "titleBaseline": "alphabetic"}},
                   "x2": {"field": "x1"},
                   "y": {"field": "rbl", "type": "quantitative", "scale": {"domain": [0.5, 1.5], "nice": false, "zero": false},
                         "axis": {"orient": "left", "values": [0.5, 1, 1.5], "format": "~g", "tickSize": -9, "labelPadding": 12.5, "title": "Data/Fit", "titleFontSize": 14, "titleX": -29, "titleBaseline": "alphabetic", "titleAngle": 270}},
                   "y2": {"datum": 0.5}
                 }},
                {"mark": {"type": "rect", "clip": true, "color": "#cccccc"},
                 "encoding": {
                   "x": {"field": "x0", "type": "quantitative", "axis": {"orient": "top", "values": [0,50,100,150,200,250,300,350,400,450,500,550,600], "labels": false, "title": null, "tickSize": {"condition": {"test": "datum.value % 200 === 0", "value": -9}, "value": -5}}},
                   "x2": {"field": "x1"},
                   "y": {"field": "rbl", "type": "quantitative", "axis": {"orient": "right", "values": [0.5, 1, 1.5], "labels": false, "title": null, "tickSize": -9}},
                   "y2": {"field": "rbh"}
                 }},
                {"mark": {"type": "rule", "clip": true, "color": "black", "strokeWidth": 1.2},
                 "encoding": {
                   "x": {"field": "x0", "type": "quantitative", "axis": null},
                   "x2": {"field": "x1"},
                   "y": {"field": "r", "type": "quantitative", "axis": null}
                 }},
                {"mark": {"type": "point", "shape": "M0,-1L0,1", "filled": false, "size": 14, "strokeWidth": 1.2, "opacity": 1, "color": "black", "clip": true},
                 "encoding": {
                   "x": {"field": "xc", "type": "quantitative", "axis": null},
                   "y": {"field": "r", "type": "quantitative", "axis": null}
                 }}
              ]
            }
          ]
        }
      ]
    }
  ]
}
